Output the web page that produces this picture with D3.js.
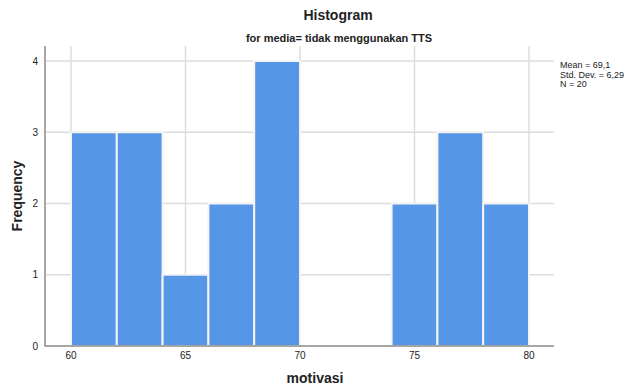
<!DOCTYPE html>
<html>
<head>
<meta charset="utf-8">
<script src="https://cdn.jsdelivr.net/npm/d3@7"></script>
<style>
  body { margin: 0; background: #fff; }
  text { font-family: Arial, "Liberation Sans", sans-serif; fill: #222; }
</style>
</head>
<body>
<div id="chart"></div>
<script>
var width = 627;
var height = 385;

// histogram bins (lower edge) and counts
var binStarts = [60, 62, 64, 66, 68, 70, 72, 74, 76, 78];
var counts = [3, 3, 1, 2, 4, 0, 0, 2, 3, 2];
var binWidth = 2;
var xTicks = [60, 65, 70, 75, 80];
var yTicks = [0, 1, 2, 3, 4];
var statsLines = ['Mean = 69,1', 'Std. Dev. = 6,29', 'N = 20'];

var svg = d3.select('#chart')
    .append('svg')
        .attr('width', width)
        .attr('height', height);

var x = d3.scaleLinear().domain([60, 80]).range([71, 529]);
var y = d3.scaleLinear().domain([0, 4]).range([346, 61]);
var plotLeft = 45, plotRight = 554, plotTop = 46, plotBottom = 346;

// gridlines
svg.append('g').selectAll('line')
    .data(xTicks)
    .enter()
    .append('line')
        .attr('x1', d => x(d)).attr('x2', d => x(d))
        .attr('y1', plotTop).attr('y2', plotBottom)
        .attr('stroke', '#dcdcdc').attr('stroke-width', 1.5);

svg.append('g').selectAll('line')
    .data(yTicks.slice(1))
    .enter()
    .append('line')
        .attr('x1', plotLeft).attr('x2', plotRight)
        .attr('y1', d => y(d)).attr('y2', d => y(d))
        .attr('stroke', '#dcdcdc').attr('stroke-width', 1.5);

// bars
svg.append('g').selectAll('rect')
    .data(binStarts.map((b, i) => ({start: b, count: counts[i]})).filter(d => d.count > 0))
    .enter()
    .append('rect')
        .attr('x', d => x(d.start))
        .attr('y', d => y(d.count))
        .attr('width', d => x(d.start + binWidth) - x(d.start))
        .attr('height', d => y(0) - y(d.count))
        .attr('fill', '#5596e6')
        .attr('stroke', '#f4f4f4')
        .attr('stroke-width', 2);

// axes lines
svg.append('line')
    .attr('x1', plotLeft).attr('x2', plotLeft).attr('y1', plotTop).attr('y2', plotBottom + 0.5)
    .attr('stroke', '#8a8a8a').attr('stroke-width', 1.5);
svg.append('line')
    .attr('x1', plotLeft).attr('x2', plotRight).attr('y1', plotBottom).attr('y2', plotBottom)
    .attr('stroke', '#8a8a8a').attr('stroke-width', 1.5);

// tick labels
svg.append('g').selectAll('text')
    .data(xTicks)
    .enter()
    .append('text')
        .attr('x', d => x(d))
        .attr('y', 359)
        .attr('text-anchor', 'middle')
        .style('font-size', '10px')
        .text(d => d);

svg.append('g').selectAll('text')
    .data(yTicks)
    .enter()
    .append('text')
        .attr('x', 38)
        .attr('y', d => y(d) + 3.5)
        .attr('text-anchor', 'end')
        .style('font-size', '10px')
        .text(d => d);

// titles
svg.append('text')
    .attr('x', 338).attr('y', 20)
    .attr('text-anchor', 'middle')
    .style('font-size', '14px').style('font-weight', 'bold')
    .text('Histogram');

svg.append('text')
    .attr('x', 339).attr('y', 42)
    .attr('text-anchor', 'middle')
    .style('font-size', '11px').style('font-weight', 'bold')
    .text('for media= tidak menggunakan TTS');

svg.append('text')
    .attr('x', 315).attr('y', 383)
    .attr('text-anchor', 'middle')
    .style('font-size', '14px').style('font-weight', 'bold')
    .text('motivasi');

svg.append('text')
    .attr('transform', 'translate(22, 196) rotate(-90)')
    .attr('text-anchor', 'middle')
    .style('font-size', '14px').style('font-weight', 'bold')
    .text('Frequency');

// stats box text
svg.append('g').selectAll('text')
    .data(statsLines)
    .enter()
    .append('text')
        .attr('x', 560)
        .attr('y', (d, i) => 68 + i * 9.5)
        .style('font-size', '9px')
        .text(d => d);
</script>
</body>
</html>
